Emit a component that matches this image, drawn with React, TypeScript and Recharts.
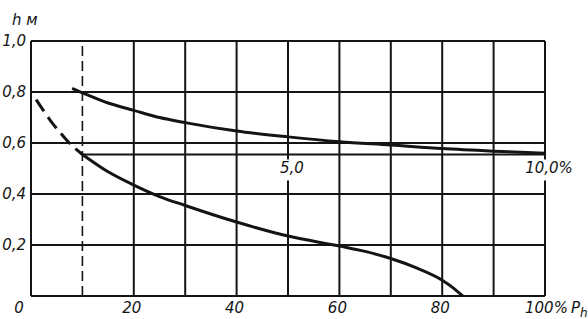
import { LineChart, Line, XAxis, YAxis, CartesianGrid, ReferenceLine, ReferenceDot } from "recharts"

// axes (the 10% line is drawn dashed, not as a grid line)
const xTicks = [0, 20, 30, 40, 50, 60, 70, 80, 90, 100]
const xLabelValues = [0, 20, 40, 60, 80, 100]
const yTicks = [0, 0.2, 0.4, 0.6, 0.8, 1.0]
const yLabels = ["0", "0,2", "0,4", "0,6", "0,8", "1,0"]

// upper curve (read against the inner 0..10% scale)
const upperX = [8, 10, 15, 20, 25, 30, 40, 50, 60, 70, 80, 90, 100]
const upperH = [0.814, 0.797, 0.757, 0.728, 0.7, 0.68, 0.647, 0.624, 0.605, 0.592, 0.578, 0.568, 0.56]

// lower curve, dashed stretch then solid
const lowerDashX = [1, 2.5, 4, 5.5, 7, 8.5, 10]
const lowerDashH = [0.77, 0.725, 0.682, 0.645, 0.61, 0.58, 0.555]
const lowerX = [10, 15, 20, 25, 30, 40, 50, 60, 65, 70, 75, 80, 82, 84]
const lowerH = [0.555, 0.487, 0.435, 0.39, 0.355, 0.29, 0.235, 0.196, 0.175, 0.147, 0.11, 0.062, 0.034, 0]

// inner scale line
const innerLevel = 0.555
const innerStart = 10
const innerTickX = [50, 100]
const innerTickLabels = ["5,0", "10,0%"]

const upper = upperX.map((x, i) => ({ x, h: upperH[i] }))
const lowerDash = lowerDashX.map((x, i) => ({ x, h: lowerDashH[i] }))
const lower = lowerX.map((x, i) => ({ x, h: lowerH[i] }))

const ink = "#141414"
const font = {
  fontFamily: "DejaVu Sans",
  fontStyle: "italic" as const,
  fontSize: 15,
  fill: ink,
}

function XTick(props: any) {
  const { x, y, payload } = props
  const v = payload.value
  if (!xLabelValues.includes(v)) return <g />
  if (v === 0)
    return (
      <text x={x - 12} y={y + 17} textAnchor="middle" {...font}>
        0
      </text>
    )
  if (v === 100)
    return (
      <text x={x - 20} y={y + 17} textAnchor="start" {...font}>
        100%
        <tspan dx={3}>P</tspan>
        <tspan dy={4} fontSize={12}>
          h
        </tspan>
      </text>
    )
  return (
    <text x={x - 2} y={y + 17} textAnchor="middle" {...font}>
      {v}
    </text>
  )
}

function YTick(props: any) {
  const { x, y, payload } = props
  const i = yTicks.indexOf(payload.value)
  if (payload.value === 0) return <g />
  return (
    <text x={x - 5} y={y + 5} textAnchor="end" {...font}>
      {yLabels[i]}
    </text>
  )
}

function InnerLabel(label: string) {
  return (props: any) => {
    const { cx, cy } = props
    const w = label.length * 9 + 6
    return (
      <g>
        <rect x={cx + 5 - w / 2} y={cy + 5} width={w} height={21} fill="#fff" />
        <text x={cx + 4} y={cy + 19} textAnchor="middle" {...font}>
          {label}
        </text>
      </g>
    )
  }
}

export default function App() {
  return (
    <div style={{ position: "absolute", left: 0, top: 0, background: "#fff" }}>
      <LineChart width={588} height={319} margin={{ top: 41, right: 43, bottom: 0, left: 0 }}>
        <CartesianGrid stroke={ink} strokeWidth={2} />
        <XAxis
          type="number"
          dataKey="x"
          domain={[0, 100]}
          ticks={xTicks}
          interval={0}
          height={23}
          axisLine={false}
          tickLine={false}
          tickSize={0}
          tickMargin={0}
          tick={<XTick />}
        />
        <YAxis
          type="number"
          dataKey="h"
          domain={[0, 1]}
          ticks={yTicks}
          interval={0}
          width={31}
          axisLine={false}
          tickLine={false}
          tickSize={0}
          tickMargin={0}
          tick={<YTick />}
          label={{
            content: (p: any) => (
              <text x={12} y={(p.viewBox?.y ?? 41) - 16} {...font}>
                h м
              </text>
            ),
          }}
        />
        <ReferenceLine x={innerStart} stroke={ink} strokeWidth={1.6} strokeDasharray="10 5" />
        <ReferenceLine
          segment={[
            { x: innerStart, y: innerLevel },
            { x: 100, y: innerLevel },
          ]}
          stroke={ink}
          strokeWidth={2}
        />
        {innerTickX.map((x, i) => (
          <ReferenceDot
            key={x}
            x={x}
            y={innerLevel}
            r={0}
            ifOverflow="visible"
            shape={InnerLabel(innerTickLabels[i])}
          />
        ))}
        <Line
          data={upper}
          dataKey="h"
          type="monotone"
          stroke={ink}
          strokeWidth={3}
          dot={false}
          isAnimationActive={false}
        />
        <Line
          data={lowerDash}
          dataKey="h"
          type="monotone"
          stroke={ink}
          strokeWidth={3}
          strokeDasharray="14 7"
          dot={false}
          isAnimationActive={false}
        />
        <Line
          data={lower}
          dataKey="h"
          type="monotone"
          stroke={ink}
          strokeWidth={3}
          dot={false}
          isAnimationActive={false}
        />
      </LineChart>
    </div>
  )
}
